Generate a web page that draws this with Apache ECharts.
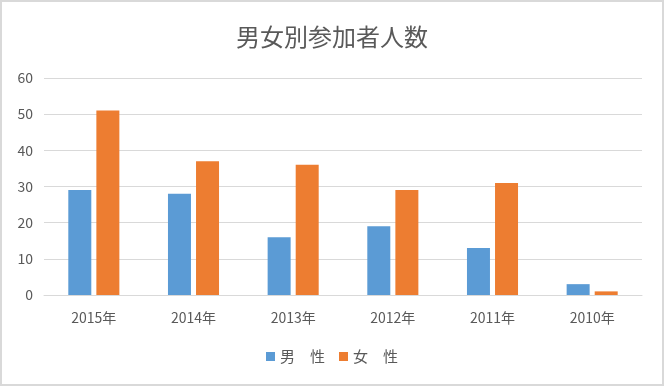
<!DOCTYPE html>
<html><head><meta charset="utf-8">
<script src="https://cdn.jsdelivr.net/npm/echarts@6/dist/echarts.min.js"></script>
<style>
html,body{margin:0;padding:0;background:#fff;}
#c{width:664px;height:386px;box-sizing:border-box;border:2px solid #d9d9d9;}
</style></head><body>
<div id="c"></div>
<script>
const categories = ['2015年','2014年','2013年','2012年','2011年','2010年'];
const maleValues = [29, 28, 16, 19, 13, 3];
const femaleValues = [51, 37, 36, 29, 31, 1];
const seriesNames = ['男　性','女　性'];
const font = '"Noto Sans CJK JP","Noto Sans",sans-serif';
const chart = echarts.init(document.getElementById('c'), null, {renderer:'canvas'});
chart.setOption({
  animation:false,
  textStyle:{fontFamily:font},
  title:{text:'男女別参加者人数',left:'center',top:18,
    textStyle:{fontFamily:font,fontSize:24,fontWeight:'normal',color:'#595959'}},
  legend:{bottom:15,left:'center',itemWidth:9,itemHeight:9,itemGap:14,icon:'rect',
    textStyle:{fontFamily:font,fontSize:15,color:'#595959'},data:seriesNames},
  grid:{left:42,right:20,top:76,bottom:89,containLabel:false},
  xAxis:{type:'category',data:categories,
    axisLine:{lineStyle:{color:'#d9d9d9',width:1}},axisTick:{show:false},
    axisLabel:{fontFamily:font,fontSize:14,color:'#595959',margin:16}},
  yAxis:{type:'value',min:0,max:60,interval:10,
    axisLine:{show:false},axisTick:{show:false},
    splitLine:{lineStyle:{color:'#d9d9d9',width:1}},
    axisLabel:{fontFamily:font,fontSize:14,color:'#595959',margin:11}},
  series:[
    {name:seriesNames[0],type:'bar',data:maleValues,barWidth:23,barGap:'22%',
      itemStyle:{color:'#5B9BD5'}},
    {name:seriesNames[1],type:'bar',data:femaleValues,barWidth:23,barGap:'22%',
      itemStyle:{color:'#ED7D31'}}
  ]
});
</script></body></html>
